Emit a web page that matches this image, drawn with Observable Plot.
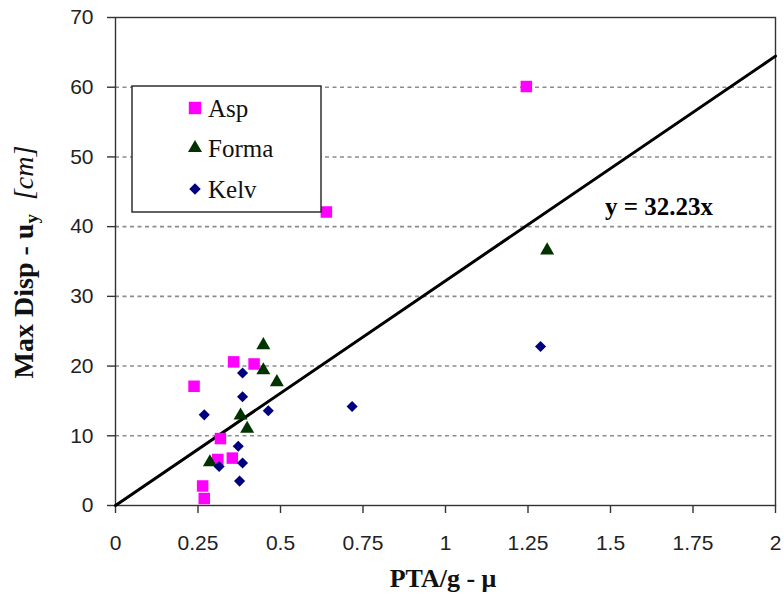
<!DOCTYPE html>
<html><head><meta charset="utf-8">
<script src="https://cdn.jsdelivr.net/npm/d3@7"></script>
<script src="https://cdn.jsdelivr.net/npm/@observablehq/plot@0.6"></script>
<style>body{margin:0;background:#fff}</style>
</head><body><div id="chart"></div>
<script>
// ---- data ----
const aspX = [1.245, 0.639, 0.238, 0.358, 0.420, 0.318, 0.310, 0.354, 0.264, 0.269];
const aspY = [60.1, 42.1, 17.1, 20.6, 20.3, 9.6, 6.6, 6.8, 2.8, 1.0];
const formaX = [1.308, 0.448, 0.448, 0.489, 0.379, 0.399, 0.286];
const formaY = [36.6, 23.0, 19.4, 17.7, 12.9, 11.0, 6.2];
const kelvX = [1.288, 0.717, 0.385, 0.385, 0.269, 0.463, 0.372, 0.385, 0.314, 0.376];
const kelvY = [22.8, 14.2, 19.0, 15.6, 13.0, 13.6, 8.5, 6.1, 5.6, 3.5];
const seriesNames = ["Asp", "Forma", "Kelv"];
const seriesColors = ["#FF00FF", "#003300", "#000080"];
const seriesSymbols = ["square", "triangle", "diamond2"];
const slope = 32.23;
const trendX = [0, 2];
const equationText = "y = 32.23x";
const xTicks = [0, 0.25, 0.5, 0.75, 1, 1.25, 1.5, 1.75, 2];
const xTickLabels = ["0", "0.25", "0.5", "0.75", "1", "1.25", "1.5", "1.75", "2"];
const yTicks = [0, 10, 20, 30, 40, 50, 60, 70];
const gridY = [10, 20, 30, 40, 50, 60];
const xTitle = "PTA/g - μ";

// ---- build ----
const toRows = (xs, ys) => xs.map((x, i) => ({x, y: ys[i]}));
const asp = toRows(aspX, aspY), forma = toRows(formaX, formaY), kelv = toRows(kelvX, kelvY);
const trend = trendX.map(x => ({x, y: slope * x}));
const eqAnchor = [{x: 1.48, y: slope * 1.48, t: equationText}];
const serif = "'Liberation Serif', 'Times New Roman', serif";
const sans = "'Liberation Sans', Arial, sans-serif";

const plot = Plot.plot({
  width: 784, height: 606,
  marginLeft: 115, marginTop: 17, marginRight: 9, marginBottom: 101,
  style: {fontFamily: sans, fontSize: "21px", background: "white", color: "#222"},
  x: {domain: [0, 2]},
  y: {domain: [0, 70]},
  marks: [
    Plot.ruleY(gridY, {stroke: "#8c8c8c", strokeDasharray: "4,3.5", strokeWidth: 1.6}),
    Plot.frame({stroke: "#333", strokeWidth: 1.4}),
    Plot.axisX({ticks: xTicks, tickSize: 8, tickPadding: 22, tickFormat: (d) => xTickLabels[xTicks.indexOf(d)], label: null, stroke: "#333", strokeWidth: 1.4, fontFamily: sans, fontSize: 21, fill: "#222"}),
    Plot.axisY({ticks: yTicks, tickSize: 8, tickPadding: 14, label: null, stroke: "#333", strokeWidth: 1.4, fontFamily: sans, fontSize: 21, fill: "#222"}),
    Plot.line(trend, {x: "x", y: "y", stroke: "black", strokeWidth: 3}),
    Plot.dot(asp, {x: "x", y: "y", symbol: seriesSymbols[0], r: 6.5, fill: seriesColors[0], stroke: null}),
    Plot.dot(forma, {x: "x", y: "y", symbol: seriesSymbols[1], r: 5.2, fill: seriesColors[1], stroke: null}),
    Plot.dot(kelv, {x: "x", y: "y", symbol: seriesSymbols[2], r: 5.0, fill: seriesColors[2], stroke: null}),
    Plot.text(eqAnchor, {x: "x", y: "y", text: "t", textAnchor: "start", dx: 1, dy: 34, fontFamily: serif, fontWeight: "bold", fontSize: 25, fill: "black"})
  ]
});
document.getElementById("chart").appendChild(plot);

const svg = d3.select(plot);
// x title
svg.append("text").attr("x", 443).attr("y", 587).attr("text-anchor", "middle")
  .attr("font-family", serif).attr("font-size", 26).attr("font-weight", "bold").attr("fill", "#111")
  .text(xTitle);
// y title
const yt = svg.append("text").attr("transform", "translate(33,262) rotate(-90)").attr("text-anchor", "middle")
  .attr("font-family", serif).attr("font-size", 28).attr("fill", "#111");
yt.append("tspan").attr("font-weight", "bold").text("Max Disp - u");
yt.append("tspan").attr("font-weight", "bold").attr("font-size", 19).attr("dy", 5).text("y");
yt.append("tspan").attr("dy", -5).text("\u00a0\u00a0");
yt.append("tspan").attr("font-style", "italic").text("[cm]");

// legend
const lg = svg.append("g");
lg.append("rect").attr("x", 132).attr("y", 86).attr("width", 189).attr("height", 126)
  .attr("fill", "white").attr("stroke", "#222").attr("stroke-width", 1.4);
const symMap = {square: d3.symbolSquare, triangle: d3.symbolTriangle, diamond2: d3.symbolDiamond2};
const rs = [7.0, 5.2, 5.2];
const legendY = [108, 148, 189];
seriesNames.forEach((name, i) => {
  const cy = legendY[i];
  lg.append("path").attr("transform", `translate(195,${cy})`)
    .attr("d", d3.symbol(symMap[seriesSymbols[i]], Math.PI * rs[i] * rs[i])())
    .attr("fill", seriesColors[i]);
  lg.append("text").attr("x", 208).attr("y", cy).attr("dy", "0.35em").attr("text-anchor", "start")
    .attr("font-family", serif).attr("font-size", 25).attr("fill", "#111").text(name);
});
</script>
</body></html>
